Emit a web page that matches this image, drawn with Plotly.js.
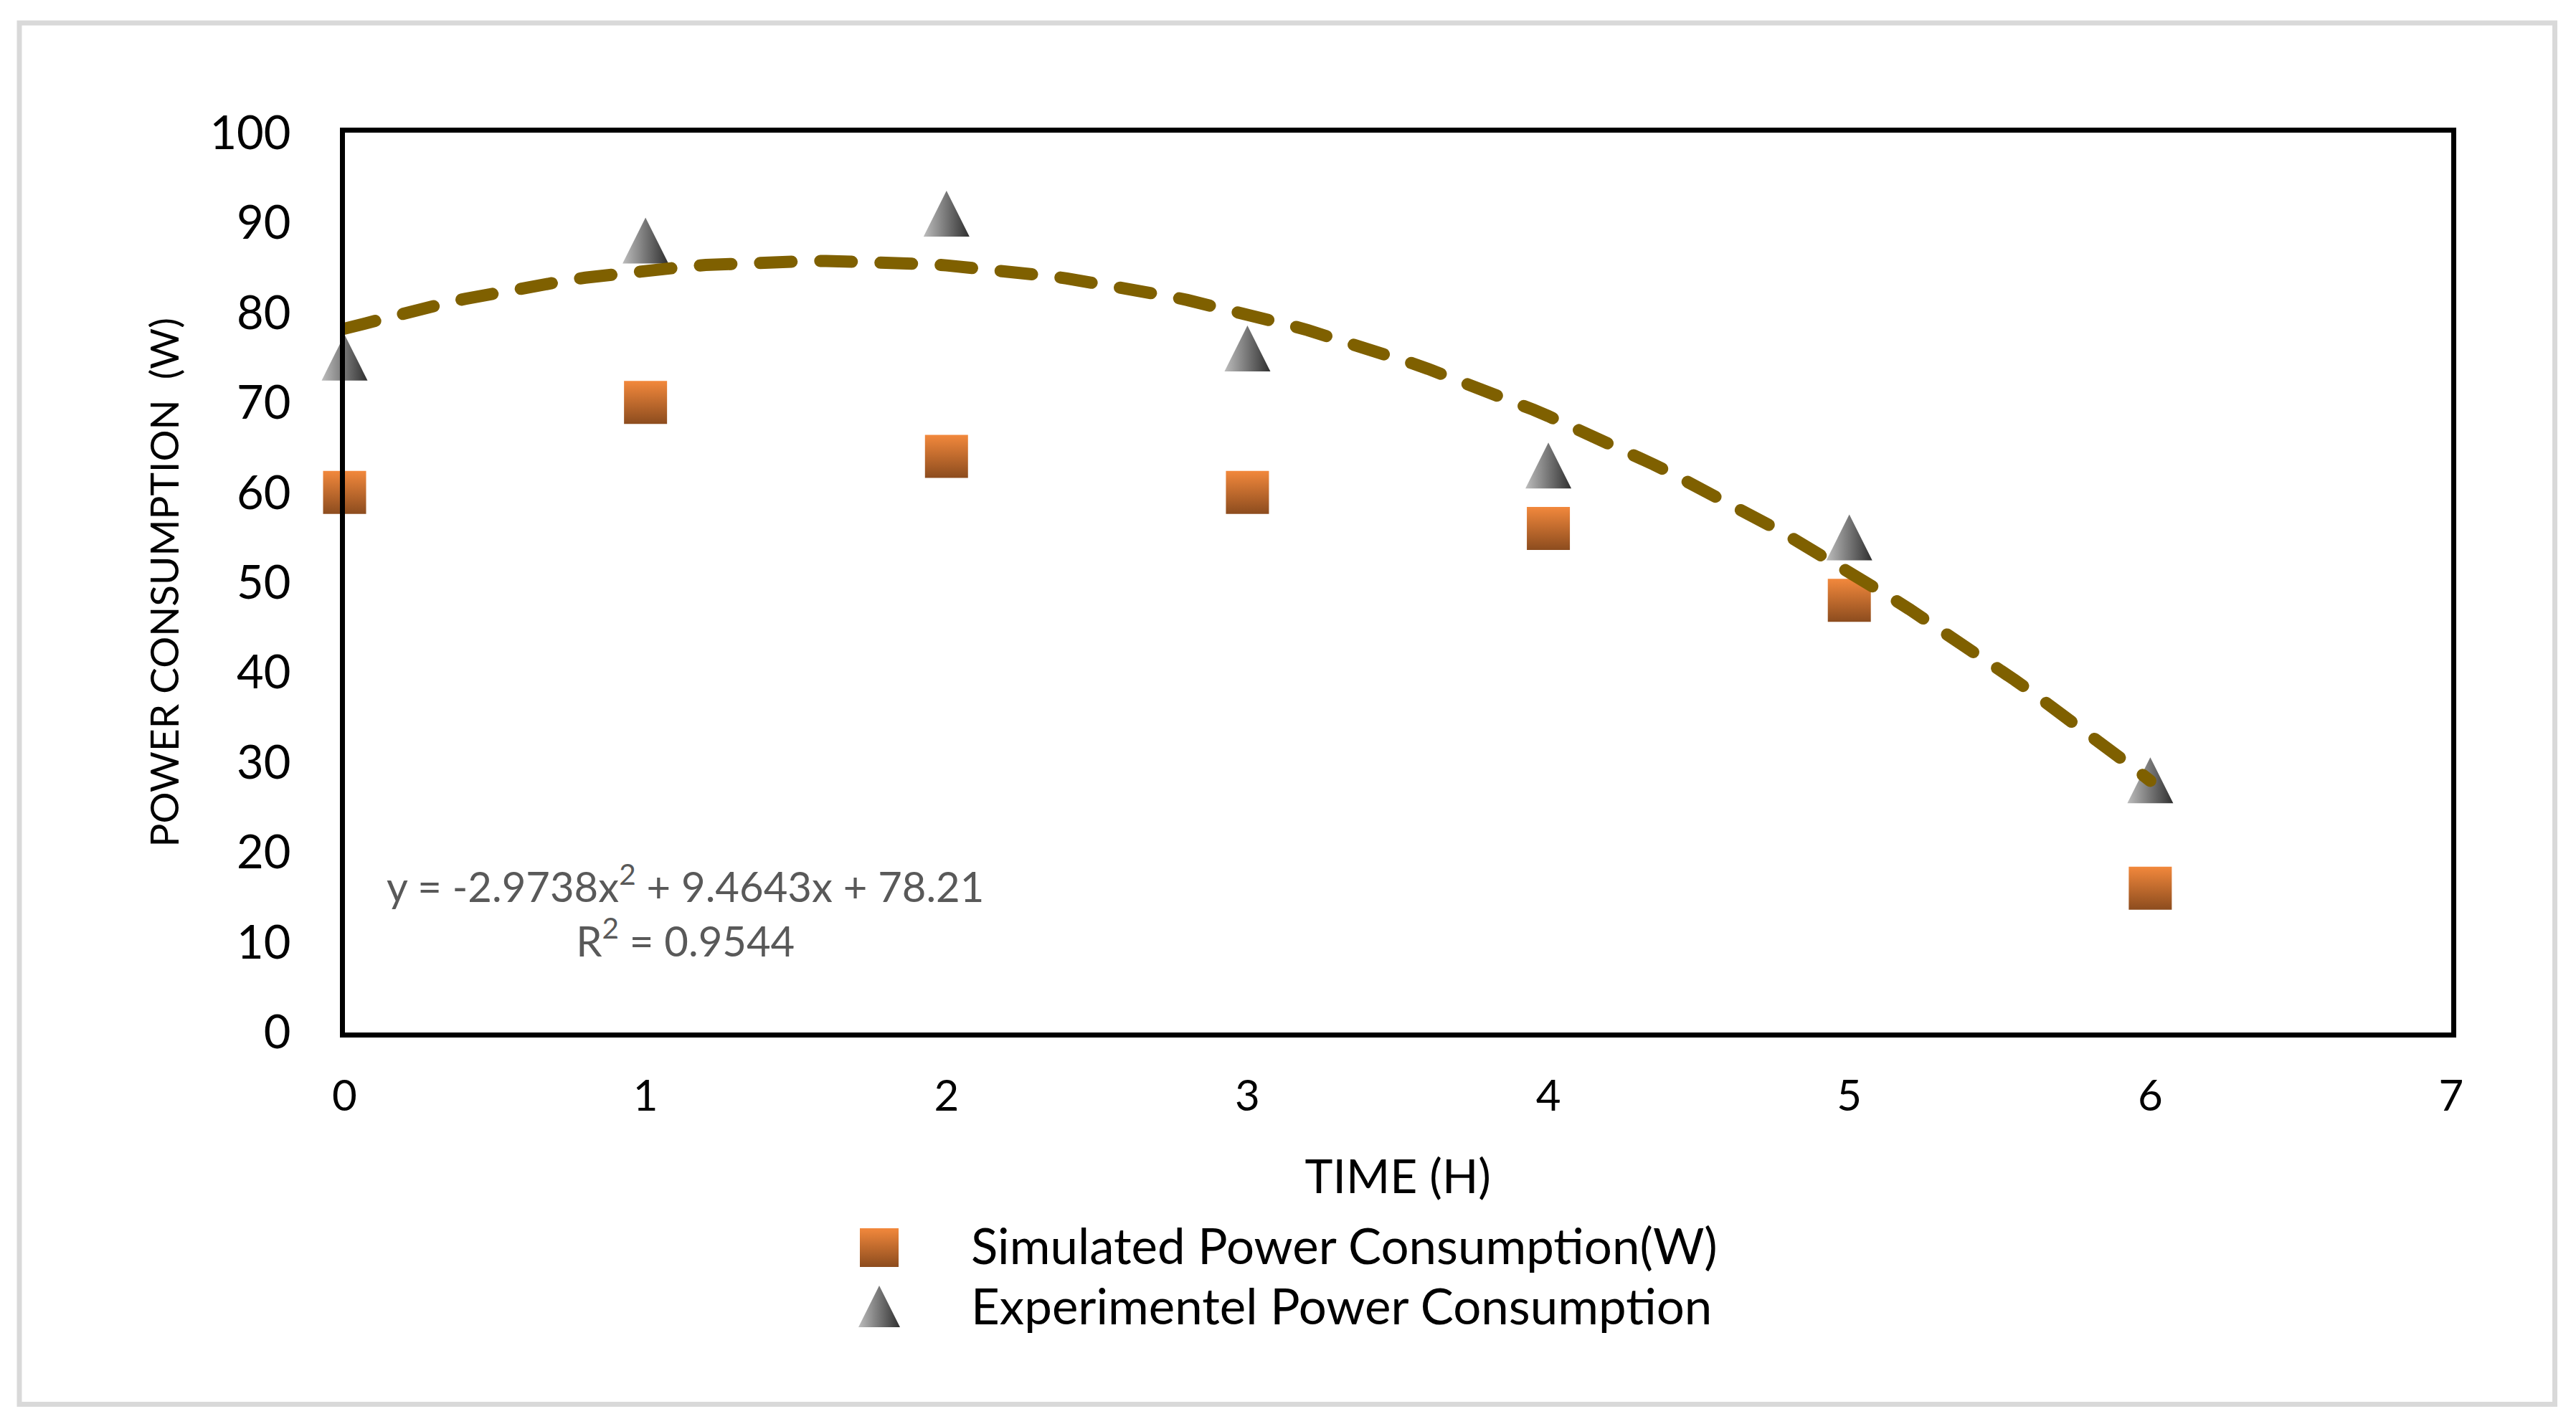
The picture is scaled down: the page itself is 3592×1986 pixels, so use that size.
<!DOCTYPE html>
<html>
<head>
<meta charset="utf-8">
<script src="https://cdn.plot.ly/plotly-3.0.1.min.js"></script>
<style>
  html, body { margin: 0; padding: 0; background: #ffffff; }
  #chart { width: 3592px; height: 1986px; }
  .trendline .js-line { stroke-linecap: round; }
</style>
</head>
<body>
<div id="chart"></div>
<script>
// ---------------- data ----------------
const timeH = [0, 1, 2, 3, 4, 5, 6];
const simulatedW = [60, 70, 64, 60, 56, 48, 16];
const experimentalW = [75, 88, 91, 76, 63, 55, 28];
const seriesNames = ['Simulated Power Consumption(W)', 'Experimentel Power Consumption'];
// polynomial trendline (order 2) of the experimental series, as printed on the chart
const trendCoef = [-2.9738, 9.4643, 78.21];   // a*x^2 + b*x + c
const trendR2 = 0.9544;
const xAxisTitle = 'TIME (H)';
const yAxisTitle = 'POWER CONSUMPTION\u00a0 (W)';

// ---------------- geometry (layout only) ----------------
const W = 3592, H = 1986;
const LW = 7;                         // frame line width
const frame = { left: 477, right: 3421.5, top: 181.5, bottom: 1443 };
const px = v => v / W;
const py = v => 1 - v / H;

// trendline curve evaluated from the printed coefficients over the data's x span
const trendX = [];
const trendY = [];
const xMin = Math.min(...timeH), xMax = Math.max(...timeH);
for (let i = 0; i <= 120; i++) {
  const x = xMin + (xMax - xMin) * i / 120;
  trendX.push(x);
  trendY.push(trendCoef[0] * x * x + trendCoef[1] * x + trendCoef[2]);
}

const squareMarker = {
  symbol: 'square', size: 60, color: '#f2883c',
  gradient: { type: 'vertical', color: '#8c4c1e' },
  line: { width: 0 }
};
const triMarker = {
  symbol: 'arrow-down', angle: 180, size: 64, standoff: 32, color: '#bdbdbd',
  gradient: { type: 'horizontal', color: '#2f2f2f' },
  line: { width: 0 }
};

const traces = [
  {
    type: 'scatter', mode: 'markers', name: seriesNames[0],
    x: timeH, y: simulatedW, marker: squareMarker, cliponaxis: false,
    xaxis: 'x', yaxis: 'y'
  },
  {
    type: 'scatter', mode: 'markers', name: seriesNames[1],
    x: timeH, y: experimentalW, marker: triMarker, cliponaxis: false,
    xaxis: 'x', yaxis: 'y'
  },
  {
    type: 'scatter', mode: 'lines', name: 'Poly. (' + seriesNames[1] + ')',
    x: trendX, y: trendY, cliponaxis: false, hoverinfo: 'skip',
    line: { color: '#7f6000', width: 17, dash: '44px,40px' },
    xaxis: 'x', yaxis: 'y'
  },
  // legend keys (manual legend so that keys keep the full marker size)
  {
    type: 'scatter', mode: 'markers', name: seriesNames[0] + ' key', hoverinfo: 'skip',
    x: [1226], y: [1740], marker: Object.assign({}, squareMarker, { size: 54 }),
    cliponaxis: false, xaxis: 'x2', yaxis: 'y2'
  },
  {
    type: 'scatter', mode: 'markers', name: seriesNames[1] + ' key', hoverinfo: 'skip',
    x: [1226], y: [1822], marker: Object.assign({}, triMarker, { size: 58, standoff: 29 }),
    cliponaxis: false, xaxis: 'x2', yaxis: 'y2'
  }
];

const eqText = 'y = ' + trendCoef[0] + 'x<sup>2</sup> + ' + trendCoef[1] + 'x + ' + trendCoef[2] +
               '<br>R<sup>2</sup> = ' + trendR2;

const layout = {
  width: W, height: H,
  margin: { l: 0, r: 0, t: 0, b: 0, pad: 0 },
  paper_bgcolor: '#ffffff',
  plot_bgcolor: 'rgba(0,0,0,0)',
  showlegend: false,
  font: { family: 'Lato, "Open Sans", sans-serif', color: '#000000' },
  xaxis: {
    domain: [px(frame.left + LW / 2), px(frame.right - LW / 2)],
    range: [0, 7], tick0: 0, dtick: 1,
    showgrid: false, zeroline: false,
    showline: true, mirror: true, linewidth: LW, linecolor: '#000000',
    ticks: '', ticklabelstandoff: 30,
    tickfont: { size: 60, color: '#000000' },
    title: { text: xAxisTitle, font: { size: 66, color: '#000000' }, standoff: 60 },
    anchor: 'y'
  },
  yaxis: {
    domain: [py(frame.bottom - LW / 2), py(frame.top + LW / 2)],
    range: [0, 100], tick0: 0, dtick: 10,
    showgrid: false, zeroline: false,
    showline: true, mirror: true, linewidth: LW, linecolor: '#000000',
    ticks: '', ticklabelstandoff: 55,
    tickfont: { size: 65, color: '#000000' },
    title: { text: yAxisTitle, font: { size: 55, color: '#000000' }, standoff: 28 },
    anchor: 'x'
  },
  xaxis2: { domain: [0, 1], range: [0, W], visible: false, anchor: 'y2', fixedrange: true },
  yaxis2: { domain: [0, 1], range: [H, 0], visible: false, anchor: 'x2', fixedrange: true },
  shapes: [
    {
      type: 'rect', xref: 'paper', yref: 'paper', layer: 'below',
      x0: px(27), x1: px(3562.5), y0: py(1958.5), y1: py(32),
      line: { color: '#d9d9d9', width: 7 }, fillcolor: 'rgba(0,0,0,0)'
    }
  ],
  annotations: [
    {
      xref: 'paper', yref: 'paper', x: px(955), y: py(1270),
      xanchor: 'center', yanchor: 'middle', align: 'center', showarrow: false,
      text: eqText, font: { size: 58, color: '#595959' }
    },
    {
      xref: 'paper', yref: 'paper', x: px(1352), y: py(1736),
      xanchor: 'left', yanchor: 'middle', showarrow: false,
      text: seriesNames[0], font: { size: 69, color: '#000000' }
    },
    {
      xref: 'paper', yref: 'paper', x: px(1352), y: py(1820),
      xanchor: 'left', yanchor: 'middle', showarrow: false,
      text: seriesNames[1], font: { size: 69, color: '#000000' }
    }
  ]
};

Plotly.newPlot('chart', traces, layout, { displayModeBar: false, staticPlot: true }).then(gd => {
  // round caps for the dashed trendline only
  const groups = gd.querySelectorAll('.scatterlayer .trace');
  groups.forEach((g, i) => { if (i === 2) g.classList.add('trendline'); });
});
</script>
</body>
</html>
